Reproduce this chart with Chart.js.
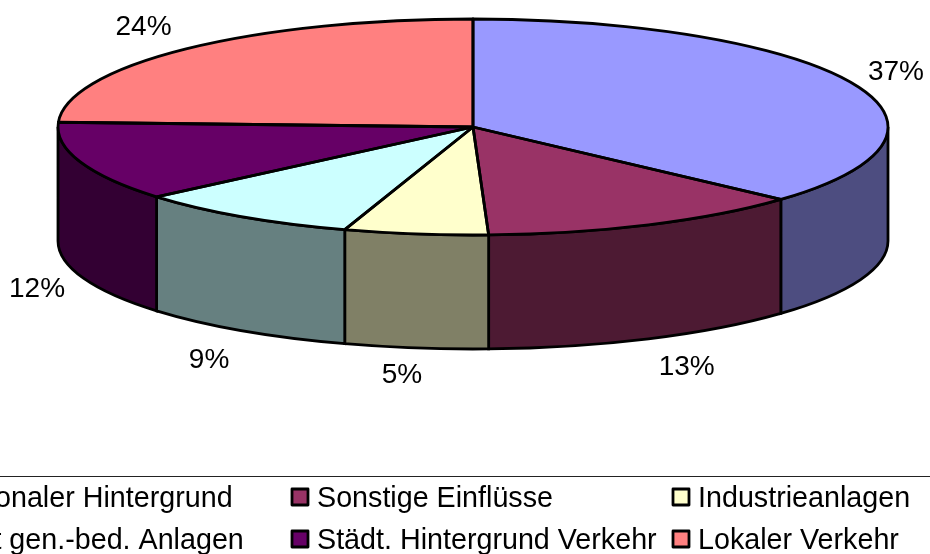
<!DOCTYPE html>
<html>
<head>
<meta charset="utf-8">
<style>
  html, body { margin: 0; padding: 0; background: #fff; overflow: hidden; }
  canvas { display: block; }
</style>
<script src="https://cdn.jsdelivr.net/npm/chart.js@4/dist/chart.umd.min.js"></script>
</head>
<body>
<canvas id="pieChart" width="930" height="554"></canvas>
<script>
const categories = ["Regionaler Hintergrund", "Sonstige Einflüsse", "Industrieanlagen", "Nicht gen.-bed. Anlagen", "Städt. Hintergrund Verkehr", "Lokaler Verkehr"];
const shares = [36.7, 12.7, 5.6, 8.8, 11.9, 24.3];
const shareLabels = ["37%", "13%", "5%", "9%", "12%", "24%"];
const colors = ["#9999FF", "#993366", "#FFFFCC", "#CCFFFF", "#660066", "#FF8080"];
const wallColors = ["#4D4D80", "#4D1A33", "#808066", "#668080", "#330033", "#804040"];
const legendOrder = [[0, 1, 2], [3, 4, 5]];

const LABEL_FONT = '28px "Liberation Sans", Arial, sans-serif';
const LEGEND_FONT = '28.7px "Liberation Sans", Arial, sans-serif';
const SQUASH = 108 / 415;
const DEPTH = 114;
const LINE = 2.8;

// flatten the pie and put the wall under it, chart.js still lays out the arcs
const pie3d = {
    id: "pie3d",

    beforeDatasetsDraw(chart) {
        const ctx = chart.ctx;
        const arcs = chart.getDatasetMeta(0).data;

        // walls only exist on the front half of the ellipse
        arcs.forEach((arc, i) => {
            const from = Math.max(arc.startAngle, 0);
            const to = Math.min(arc.endAngle, Math.PI);
            if (to <= from) return;
            wallPath(ctx, arc, from, to);
            ctx.fillStyle = wallColors[i];
            ctx.fill();
            ctx.strokeStyle = "#000";
            ctx.lineWidth = LINE;
            ctx.stroke();
        });

        ctx.save();
        ctx.translate(0, arcs[0].y);
        ctx.scale(1, SQUASH);
        ctx.translate(0, -arcs[0].y);
    },

    afterDatasetsDraw(chart) {
        const ctx = chart.ctx;
        const arcs = chart.getDatasetMeta(0).data;
        ctx.restore();

        // outlines after the restore so the line width is not squashed
        arcs.forEach((arc) => {
            ctx.beginPath();
            ctx.moveTo(arc.x, arc.y);
            ctx.ellipse(arc.x, arc.y, arc.outerRadius, arc.outerRadius * SQUASH, 0, arc.startAngle, arc.endAngle);
            ctx.closePath();
            ctx.strokeStyle = "#000";
            ctx.lineWidth = LINE;
            ctx.lineJoin = "round";
            ctx.stroke();
        });

        drawShareLabels(chart, arcs);
        drawLegend(ctx);
    }
};

function wallPath(ctx, arc, from, to) {
    const rx = arc.outerRadius;
    const ry = rx * SQUASH;
    ctx.beginPath();
    ctx.ellipse(arc.x, arc.y, rx, ry, 0, from, to);
    ctx.lineTo(arc.x + rx * Math.cos(to), arc.y + ry * Math.sin(to) + DEPTH);
    ctx.ellipse(arc.x, arc.y + DEPTH, rx, ry, 0, to, from, true);
    ctx.closePath();
}

function drawShareLabels(chart, arcs) {
    const ctx = chart.ctx;
    // labels sit around the rim, the nudges are the leftovers per slice
    const nudgeX = [-2, 17, -7, -5, 4, -8];
    const nudgeY = [0, 3, 0, 6, 4, -1];
    ctx.font = LABEL_FONT;
    ctx.fillStyle = "#000";
    ctx.textAlign = "center";
    ctx.textBaseline = "middle";
    arcs.forEach((arc, i) => {
        const mid = (arc.startAngle + arc.endAngle) / 2;
        const x = arc.x + (arc.outerRadius + 50) * Math.cos(mid);
        const y = arc.y + (arc.outerRadius * SQUASH + 28) * Math.sin(mid) + (Math.sin(mid) > 0 ? DEPTH : 0);
        ctx.fillText(shareLabels[i], x + nudgeX[i], y + nudgeY[i]);
    });
}

function drawLegend(ctx) {
    const colX = [-64, 317, 698];
    const rowY = [497, 539];

    ctx.strokeStyle = "#222";
    ctx.lineWidth = 1;
    ctx.beginPath();
    ctx.moveTo(0, 476.5);
    ctx.lineTo(930, 476.5);
    ctx.stroke();

    ctx.font = LEGEND_FONT;
    ctx.textAlign = "left";
    ctx.textBaseline = "alphabetic";
    legendOrder.forEach((row, r) => {
        row.forEach((idx, c) => {
            ctx.fillStyle = colors[idx];
            ctx.strokeStyle = "#000";
            ctx.lineWidth = LINE;
            ctx.fillRect(colX[c] - 25, rowY[r] - 8, 16, 16);
            ctx.strokeRect(colX[c] - 25, rowY[r] - 8, 16, 16);
            ctx.fillStyle = "#000";
            ctx.fillText(categories[idx], colX[c], rowY[r] + 9.5);
        });
    });
}

new Chart(document.getElementById("pieChart"), {
    type: "pie",
    data: {
        labels: categories,
        datasets: [{
            data: shares,
            backgroundColor: colors,
            borderWidth: 0,
            radius: 415,
            clip: false
        }]
    },
    options: {
        responsive: false,
        animation: false,
        events: [],
        layout: { padding: { left: 16, right: 0, top: 0, bottom: 300 } },
        plugins: {
            legend: { display: false },
            tooltip: { enabled: false }
        }
    },
    plugins: [pie3d]
});
</script>
</body>
</html>
